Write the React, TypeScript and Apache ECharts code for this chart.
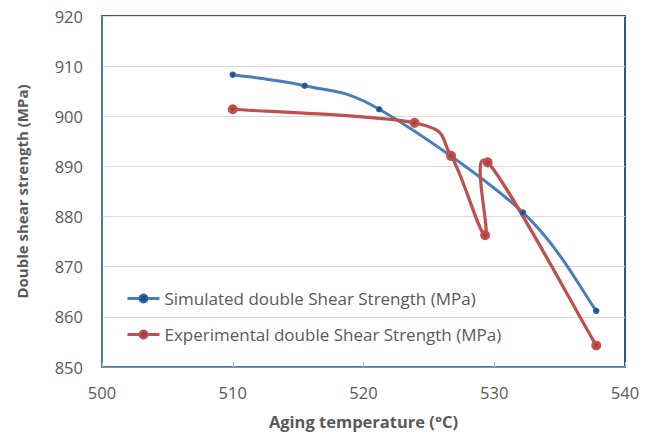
import React, { useEffect, useRef } from "react";
import * as echarts from "echarts";

const simTemps = [510, 515.5, 521.2, 532.2, 537.8];
const simValues = [908.3, 906.1, 901.4, 880.8, 861.2];
const expTemps = [510, 523.9, 526.7, 529.3, 529.5, 537.8];
const expValues = [901.4, 898.7, 892.1, 876.3, 890.8, 854.3];
const xTicks = [500, 510, 520, 530, 540];
const yTicks = [850, 860, 870, 880, 890, 900, 910, 920];
const simName = "Simulated double Shear Strength (MPa)";
const expName = "Experimental double Shear Strength (MPa)";

const FONT = "'Open Sans', sans-serif";
const BLUE = "#4a7ebb";
const RED = "#c0504d";

// Excel-like smoothed curve: one cubic Bezier per segment, Catmull-Rom control points (1/6)
function splineSeries(xs: number[], ys: number[], color: string, width: number, name: string) {
  return {
    type: "custom",
    name: name + " curve",
    silent: true,
    z: 1,
    data: xs.slice(0, -1).map((x, i) => [x, ys[i]]),
    encode: { x: 0, y: 1 },
    renderItem: (params: any, api: any) => {
      const i = params.dataIndex;
      const n = xs.length;
      const P = (k: number) => {
        const kk = Math.max(0, Math.min(n - 1, k));
        return api.coord([xs[kk], ys[kk]]);
      };
      const p0 = P(i - 1), p1 = P(i), p2 = P(i + 1), p3 = P(i + 2);
      return {
        type: "bezierCurve",
        shape: {
          x1: p1[0], y1: p1[1],
          x2: p2[0], y2: p2[1],
          cpx1: p1[0] + (p2[0] - p0[0]) / 6,
          cpy1: p1[1] + (p2[1] - p0[1]) / 6,
          cpx2: p2[0] - (p3[0] - p1[0]) / 6,
          cpy2: p2[1] - (p3[1] - p1[1]) / 6,
        },
        style: { stroke: color, lineWidth: width, fill: null, lineCap: "round" },
      };
    },
  };
}

export default function App() {
  const ref = useRef<HTMLDivElement>(null);
  useEffect(() => {
    const chart = echarts.init(ref.current!, null, { renderer: "svg" });
    chart.setOption({
      animation: false,
      backgroundColor: "#ffffff",
      grid: {
        left: 102,
        right: 28,
        top: 16,
        bottom: 67,
        outerBoundsMode: "none",
        containLabel: false,
        show: true,
        borderColor: "#2F5597",
        borderWidth: 2,
      },
      legend: {
        orient: "vertical",
        left: 121,
        top: 285,
        itemWidth: 32,
        itemHeight: 10,
        itemGap: 19,
        textStyle: { fontFamily: FONT, fontSize: 17, color: "#595959" },
        data: [
          { name: simName, lineStyle: { color: BLUE, width: 3, opacity: 1 } },
          { name: expName, lineStyle: { color: RED, width: 3, opacity: 1 } },
        ],
      },
      xAxis: {
        type: "value",
        min: xTicks[0],
        max: xTicks[xTicks.length - 1],
        interval: 10,
        name: "Aging temperature (°C)",
        nameLocation: "middle",
        nameGap: 46,
        nameTextStyle: { fontFamily: FONT, fontSize: 16.5, fontWeight: "bold", color: "#595959" },
        axisLine: { show: true, lineStyle: { color: "#5b7fb5", width: 1.5 } },
        axisTick: { show: true, inside: true, length: 5, lineStyle: { color: "#bfbfbf" } },
        axisLabel: { fontFamily: FONT, fontSize: 16.5, color: "#595959", margin: 17 },
        splitLine: { show: false },
      },
      yAxis: {
        type: "value",
        min: yTicks[0],
        max: yTicks[yTicks.length - 1],
        interval: 10,
        name: "Double shear strength (MPa)",
        nameLocation: "middle",
        nameGap: 73,
        nameTextStyle: { fontFamily: FONT, fontSize: 15, fontWeight: "bold", color: "#595959" },
        axisLine: { show: true, lineStyle: { color: "#5b7fb5", width: 1.5 } },
        axisTick: { show: false },
        axisLabel: { fontFamily: FONT, fontSize: 16.5, color: "#595959", margin: 19 },
        splitLine: { show: true, lineStyle: { color: "#d9d9d9", width: 1 } },
      },
      series: [
        {
          name: simName,
          type: "line",
          data: simTemps.map((t, i) => [t, simValues[i]]),
          symbol: "circle",
          symbolSize: 5,
          lineStyle: { color: BLUE, width: 3, opacity: 0 },
          itemStyle: { color: "#1f4e8c", borderColor: "#2f64a8", borderWidth: 1.5 },
          z: 4,
        },
        {
          name: expName,
          type: "line",
          data: expTemps.map((t, i) => [t, expValues[i]]),
          symbol: "circle",
          symbolSize: 7,
          lineStyle: { color: RED, width: 3, opacity: 0 },
          itemStyle: { color: "#a93e3b", borderColor: RED, borderWidth: 3 },
          z: 5,
        },
        splineSeries(simTemps, simValues, BLUE, 3, simName),
        splineSeries(expTemps, expValues, RED, 3.2, expName),
      ],
    });
    return () => chart.dispose();
  }, []);
  return <div ref={ref} style={{ width: 653, height: 434, position: "absolute", left: 0, top: 0 }} />;
}
